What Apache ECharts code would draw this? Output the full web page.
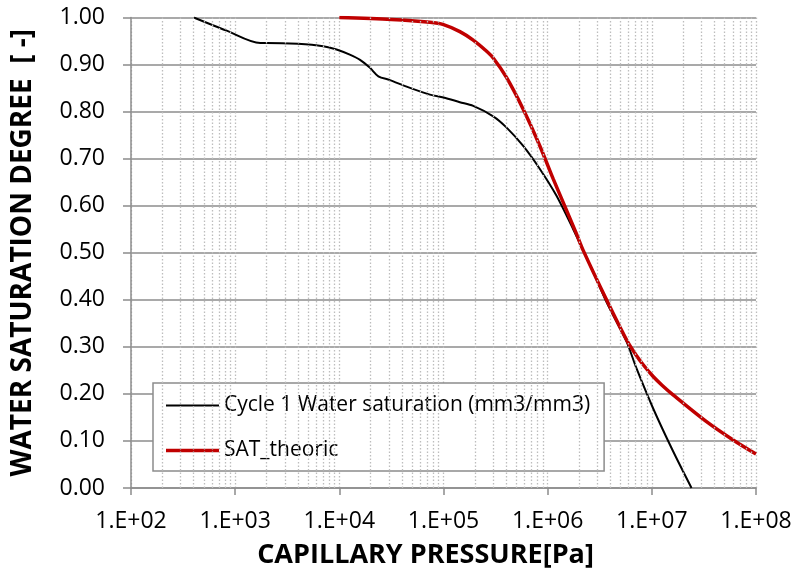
<!DOCTYPE html>
<html>
<head>
<meta charset="utf-8">
<script src="https://cdn.jsdelivr.net/npm/echarts@6/dist/echarts.min.js"></script>
<style>
html,body{margin:0;padding:0;background:#fff;}
#chart{width:795px;height:574px;}
</style>
</head>
<body>
<div id="chart"></div>
<script>
// Capillary pressure [Pa] and saturation values
const cyclePressure = [400, 830, 1740, 2000, 4000, 7000, 9400, 12600, 15800, 19700, 23700, 30600, 44300, 74100, 100000, 143600, 192800, 300000, 403600, 582100, 841400, 1216000, 1758000, 2600000, 3673000, 5715000, 7129000, 10300000, 16000000, 24040000];
const cycleSat = [1.000, 0.972, 0.946, 0.946, 0.944, 0.939, 0.932, 0.921, 0.910, 0.893, 0.875, 0.867, 0.853, 0.836, 0.830, 0.820, 0.812, 0.790, 0.766, 0.727, 0.678, 0.621, 0.550, 0.470, 0.395, 0.311, 0.254, 0.169, 0.078, 0.000];

const theoPressure = [10000, 31600, 74100, 100000, 143600, 192800, 251200, 300000, 403600, 582100, 841400, 1130000, 1409000, 1892000, 2193000, 3673000, 5715000, 7080000, 8260000, 10300000, 12600000, 16000000, 33500000, 60300000, 100000000];
const theoSat = [1.000, 0.996, 0.990, 0.985, 0.970, 0.952, 0.931, 0.914, 0.872, 0.805, 0.727, 0.657, 0.607, 0.540, 0.505, 0.400, 0.315, 0.282, 0.262, 0.237, 0.218, 0.198, 0.141, 0.102, 0.072];

const seriesNames = ['Cycle 1 Water saturation (mm3/mm3)', 'SAT_theoric'];
const xTickLabels = ['1.E+02', '1.E+03', '1.E+04', '1.E+05', '1.E+06', '1.E+07', '1.E+08'];
const yTickLabels = ['0.00', '0.10', '0.20', '0.30', '0.40', '0.50', '0.60', '0.70', '0.80', '0.90', '1.00'];

// minor gridline positions (2..9 x 10^k)
const minorMultipliers = [2, 3, 4, 5, 6, 7, 8, 9];
const minorDecades = [100, 1000, 10000, 100000, 1000000, 10000000];
const minorLines = [];
minorDecades.forEach(d => minorMultipliers.forEach(m => minorLines.push({ xAxis: m * d })));

const FONT = 'Open Sans';
const chart = echarts.init(document.getElementById('chart'), null, { renderer: 'canvas' });

const zip = (a, b) => a.map((v, i) => [v, b[i]]);

chart.setOption({
  animation: false,
  backgroundColor: '#ffffff',
  grid: { left: 131, right: 39, top: 17.5, bottom: 84 },
  xAxis: {
    type: 'log',
    logBase: 10,
    min: 100,
    max: 100000000,
    name: 'CAPILLARY PRESSURE[Pa]',
    nameLocation: 'middle',
    nameGap: 54,
    nameTextStyle: { fontFamily: FONT, fontWeight: 'bold', fontSize: 27, color: '#000', padding: [0, 36, 0, 0] },
    axisLine: { show: true, lineStyle: { color: '#8c8c8c', width: 1.5 } },
    axisTick: { show: true, length: 7, lineStyle: { color: '#8c8c8c', width: 1.5 } },
    axisLabel: {
      margin: 22,
      fontFamily: FONT, fontSize: 23, color: '#000',
      formatter: v => xTickLabels[Math.round(Math.log10(v)) - 2]
    },
    splitLine: { show: true, lineStyle: { color: '#bdbdbd', width: 1.3, type: [1.5, 2] } },
    minorTick: { show: false },
    minorSplitLine: { show: false }
  },
  yAxis: {
    type: 'value',
    min: 0,
    max: 1,
    interval: 0.1,
    name: 'WATER SATURATION DEGREE  [ -]',
    nameLocation: 'middle',
    nameRotate: 90,
    nameGap: 94,
    nameTextStyle: { fontFamily: FONT, fontWeight: 'bold', fontSize: 28, color: '#000' },
    axisLine: { show: true, lineStyle: { color: '#8c8c8c', width: 1.5 } },
    axisTick: { show: true, length: 8, lineStyle: { color: '#8c8c8c', width: 1.5 } },
    axisLabel: {
      margin: 26,
      fontFamily: FONT, fontSize: 23, color: '#000',
      formatter: v => yTickLabels[Math.round(v * 10)]
    },
    splitLine: { show: true, lineStyle: { color: '#8c8c8c', width: 1.5 } }
  },
  legend: {
    data: [
      { name: seriesNames[0], icon: 'path://M0,0H0.01V14H0Z M0,6H53V8H0Z', itemStyle: { color: '#000000' } },
      { name: seriesNames[1], icon: 'path://M0,0H0.01V14H0Z M0,5.25H53V8.75H0Z', itemStyle: { color: '#c00000' } }
    ],
    orient: 'vertical',
    left: 153,
    top: 383,
    itemWidth: 53,
    itemHeight: 14,
    itemGap: 24,
    padding: [12, 14, 10, 13],
    backgroundColor: '#ffffff',
    borderColor: '#8c8c8c',
    borderWidth: 1.5,
    borderRadius: 0,
    textStyle: { fontFamily: FONT, fontSize: 21, color: '#000' }
  },
  series: [
    {
      name: 'minor-grid',
      type: 'line',
      data: [],
      z: 1,
      silent: true,
      markLine: {
        silent: true,
        symbol: ['none', 'none'],
        label: { show: false },
        lineStyle: { color: '#bdbdbd', width: 1.3, type: [1.5, 2] },
        emphasis: { disabled: true },
        data: minorLines
      }
    },
    {
      name: seriesNames[0],
      type: 'line',
      data: zip(cyclePressure, cycleSat),
      showSymbol: false,
      symbol: 'none',
      smooth: 0.3,
      z: 3,
      lineStyle: { color: '#000000', width: 2 },
      itemStyle: { color: '#000000' }
    },
    {
      name: seriesNames[1],
      type: 'line',
      data: zip(theoPressure, theoSat),
      showSymbol: false,
      symbol: 'none',
      smooth: 0.3,
      z: 3,
      lineStyle: { color: '#c00000', width: 3.5 },
      itemStyle: { color: '#c00000' }
    }
  ]
});
</script>
</body>
</html>
